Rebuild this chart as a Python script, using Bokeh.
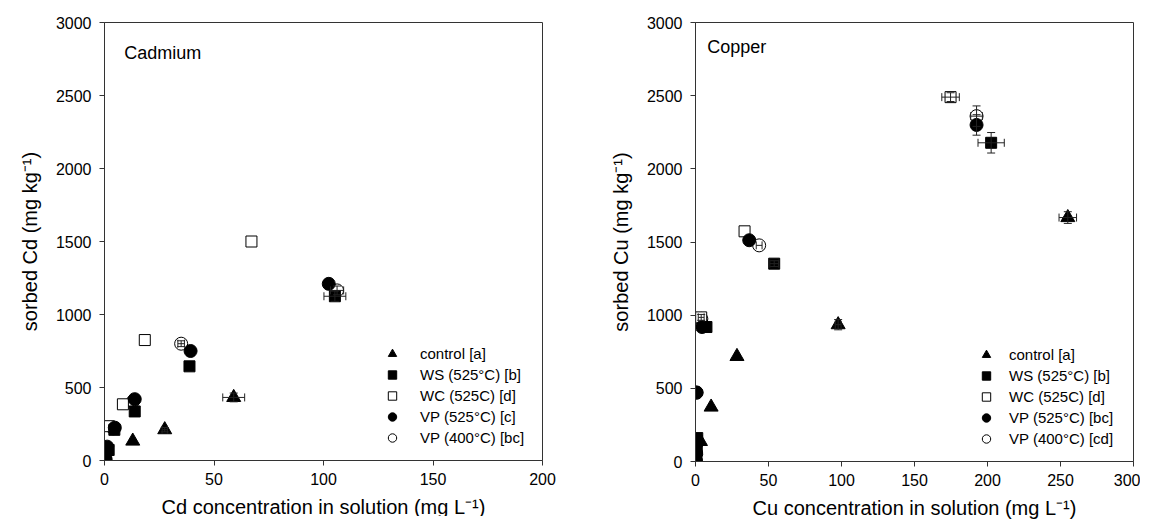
from bokeh.plotting import figure
from bokeh.layouts import row
from bokeh.models import (ColumnDataSource, Whisker, TeeHead, Legend, LegendItem,
                          Label, Range1d, FixedTicker)
from bokeh.embed import file_html
from bokeh.resources import INLINE

FONT = "Liberation Sans"

# ---------------- Cadmium data ----------------
cd_ctrl_x = [0.3, 12.9, 27.5, 59.0]
cd_ctrl_y = [15, 133, 211, 432]
cd_ctrl_xerr = [0, 0, 1.2, 5.0]
cd_ctrl_yerr = [0, 0, 15, 30]

cd_ws_x = [0.4, 1.9, 4.5, 13.8, 38.8, 105.2]
cd_ws_y = [20, 72, 210, 336, 645, 1125]
cd_ws_xerr = [0, 0, 0, 0, 0, 5.0]
cd_ws_yerr = [0, 0, 0, 0, 0, 35]

cd_wc_x = [0.3, 2.0, 8.4, 18.4, 67.1]
cd_wc_y = [30, 235, 385, 825, 1500]
cd_wc_xerr = [0, 0, 0, 0, 0]
cd_wc_yerr = [0, 0, 0, 0, 0]

cd_vp5_x = [0.5, 1.2, 4.7, 13.8, 39.3, 102.4]
cd_vp5_y = [10, 95, 225, 420, 750, 1210]
cd_vp5_xerr = [0, 0, 0, 0, 0, 0]
cd_vp5_yerr = [0, 0, 0, 0, 0, 0]

cd_vp4_x = [0.3, 1.0, 4.0, 13.0, 35.0, 106.2]
cd_vp4_y = [5, 80, 220, 405, 800, 1165]
cd_vp4_xerr = [0, 0, 0, 0, 1.5, 3.0]
cd_vp4_yerr = [0, 0, 0, 0, 20, 30]

# ---------------- Copper data ----------------
cu_ctrl_x = [0.5, 3.4, 10.7, 28.4, 97.7, 255.0]
cu_ctrl_y = [15, 137, 372, 718, 935, 1667]
cu_ctrl_xerr = [0, 0, 0, 0, 2.0, 6.0]
cu_ctrl_yerr = [0, 0, 0, 0, 35, 40]

cu_ws_x = [0.3, 0.8, 1.2, 7.5, 53.9, 202.5]
cu_ws_y = [30, 100, 160, 919, 1352, 2178]
cu_ws_xerr = [0, 0, 0, 0, 3.0, 9.0]
cu_ws_yerr = [0, 0, 0, 0, 20, 70]

cu_wc_x = [0.2, 0.6, 1.0, 3.9, 33.6, 174.7]
cu_wc_y = [20, 80, 140, 985, 1573, 2490]
cu_wc_xerr = [0, 0, 0, 2.0, 0, 6.0]
cu_wc_yerr = [0, 0, 0, 20, 0, 30]

cu_vp5_x = [0.2, 0.4, 0.7, 4.5, 36.8, 192.5]
cu_vp5_y = [5, 60, 472, 919, 1512, 2300]
cu_vp5_xerr = [0, 0, 0, 0, 0, 0]
cu_vp5_yerr = [0, 0, 0, 0, 0, 70]

cu_vp4_x = [0.3, 0.5, 0.7, 4.0, 43.6, 192.5]
cu_vp4_y = [10, 50, 470, 975, 1477, 2360]
cu_vp4_xerr = [0, 0, 0, 0, 2.0, 4.0]
cu_vp4_yerr = [0, 0, 0, 0, 0, 70]

cd_labels = ["control [a]", "WS (525°C) [b]", "WC (525C) [d]", "VP (525°C) [c]", "VP (400°C) [bc]"]
cu_labels = ["control [a]", "WS (525°C) [b]", "WC (525C) [d]", "VP (525°C) [bc]", "VP (400°C) [cd]"]

y_ticks = [0, 500, 1000, 1500, 2000, 2500, 3000]
cd_x_ticks = [0, 50, 100, 150, 200]
cu_x_ticks = [0, 50, 100, 150, 200, 250, 300]

styles = [
    dict(marker="triangle", size=14, fill_color="black"),
    dict(marker="square", size=11, fill_color="black"),
    dict(marker="square", size=11, fill_color="white"),
    dict(marker="circle", size=13, fill_color="black"),
    dict(marker="circle", size=13, fill_color="white"),
]
# drawing order: open symbols underneath the filled ones
draw_order = [4, 2, 0, 1, 3]


def make_fig(xmax, xticks, ylabel, xlabel, border_left, border_right, border_top, fh):
    p = figure(frame_width=438, frame_height=fh, output_backend="svg", toolbar_location=None,
               x_range=Range1d(0, xmax), y_range=Range1d(0, 3000),
               min_border_left=border_left, min_border_right=border_right,
               min_border_top=border_top, min_border_bottom=58)
    p.xgrid.visible = False
    p.ygrid.visible = False
    p.outline_line_color = "#333333"
    p.outline_line_width = 1
    p.xaxis.ticker = FixedTicker(ticks=xticks)
    p.yaxis.ticker = FixedTicker(ticks=y_ticks)
    for ax in (p.xaxis[0], p.yaxis[0]):
        ax.axis_line_color = "#333333"
        ax.major_tick_line_color = "#333333"
        ax.major_tick_out = 5
        ax.major_tick_in = 0
        ax.minor_tick_line_color = None
        ax.major_label_text_font = FONT
        ax.major_label_text_font_size = "16px"
        ax.major_label_text_color = "black"
        ax.axis_label_text_font = FONT
        ax.axis_label_text_font_size = "20px"
        ax.axis_label_text_font_style = "normal"
        ax.axis_label_text_color = "black"
    p.xaxis.axis_label = xlabel
    p.yaxis.axis_label = ylabel
    p.xaxis.major_label_standoff = 7
    p.yaxis.major_label_standoff = 8
    p.xaxis.axis_label_standoff = 8
    p.yaxis.axis_label_standoff = 12
    return p


def add_series(p, xs, ys, xerrs, yerrs, st):
    r = p.scatter(xs, ys, marker=st["marker"], size=st["size"], fill_color=st["fill_color"],
                  line_color="black", line_width=1)
    vb, vl, vu, hb, hl, hu = [], [], [], [], [], []
    for x, y, ex, ey in zip(xs, ys, xerrs, yerrs):
        if ey > 0:
            vb.append(x); vl.append(y - ey); vu.append(y + ey)
        if ex > 0:
            hb.append(y); hl.append(x - ex); hu.append(x + ex)
    if vb:
        src = ColumnDataSource(dict(base=vb, lower=vl, upper=vu))
        p.add_layout(Whisker(source=src, base="base", lower="lower", upper="upper",
                             dimension="height", line_color="#222222", line_width=1,
                             level="overlay",
                             upper_head=TeeHead(size=8, line_color="#222222", line_width=1),
                             lower_head=TeeHead(size=8, line_color="#222222", line_width=1)))
    if hb:
        src = ColumnDataSource(dict(base=hb, lower=hl, upper=hu))
        p.add_layout(Whisker(source=src, base="base", lower="lower", upper="upper",
                             dimension="width", line_color="#222222", line_width=1,
                             level="overlay",
                             upper_head=TeeHead(size=8, line_color="#222222", line_width=1),
                             lower_head=TeeHead(size=8, line_color="#222222", line_width=1)))
    return r


def draw_all(p, sets):
    rs = [None] * len(sets)
    for i in draw_order:
        rs[i] = add_series(p, *sets[i], styles[i])
    return rs


def add_legend(p, renderers, labels, loc, standoff):
    items = [LegendItem(label=l, renderers=[r]) for l, r in zip(labels, renderers)]
    lg = Legend(items=items, location=loc, glyph_width=24, glyph_height=21, label_height=21,
                spacing=0, padding=0, margin=0, border_line_alpha=0, background_fill_alpha=0,
                label_text_font=FONT, label_text_font_size="15px", label_text_color="black",
                label_standoff=standoff)
    p.add_layout(lg)


# ---------------- Cadmium panel ----------------
p1 = make_fig(200, cd_x_ticks, "sorbed Cd (mg kg\u207b\u00b9)",
              "Cd concentration in solution (mg L\u207b\u00b9)", 104, 60, 18, 438)
cd_sets = [
    (cd_ctrl_x, cd_ctrl_y, cd_ctrl_xerr, cd_ctrl_yerr),
    (cd_ws_x, cd_ws_y, cd_ws_xerr, cd_ws_yerr),
    (cd_wc_x, cd_wc_y, cd_wc_xerr, cd_wc_yerr),
    (cd_vp5_x, cd_vp5_y, cd_vp5_xerr, cd_vp5_yerr),
    (cd_vp4_x, cd_vp4_y, cd_vp4_xerr, cd_vp4_yerr),
]
r1 = draw_all(p1, cd_sets)
add_legend(p1, r1, cd_labels, (276, 12), 16)
p1.add_layout(Label(x=9, y=2790, text="Cadmium", text_font=FONT, text_font_size="18px",
                    text_baseline="middle", text_color="black"))

# ---------------- Copper panel ----------------
p2 = make_fig(300, cu_x_ticks, "sorbed Cu (mg kg\u207b\u00b9)",
              "Cu concentration in solution (mg L\u207b\u00b9)", 93, 7, 22, 439)
cu_sets = [
    (cu_ctrl_x, cu_ctrl_y, cu_ctrl_xerr, cu_ctrl_yerr),
    (cu_ws_x, cu_ws_y, cu_ws_xerr, cu_ws_yerr),
    (cu_wc_x, cu_wc_y, cu_wc_xerr, cu_wc_yerr),
    (cu_vp5_x, cu_vp5_y, cu_vp5_xerr, cu_vp5_yerr),
    (cu_vp4_x, cu_vp4_y, cu_vp4_xerr, cu_vp4_yerr),
]
r2 = draw_all(p2, cu_sets)
add_legend(p2, r2, cu_labels, (279, 12), 11)
p2.add_layout(Label(x=8, y=2830, text="Copper", text_font=FONT, text_font_size="18px",
                    text_baseline="middle", text_color="black"))

layout = row(p1, p2)
open("out.html", "w").write(file_html(layout, INLINE))
